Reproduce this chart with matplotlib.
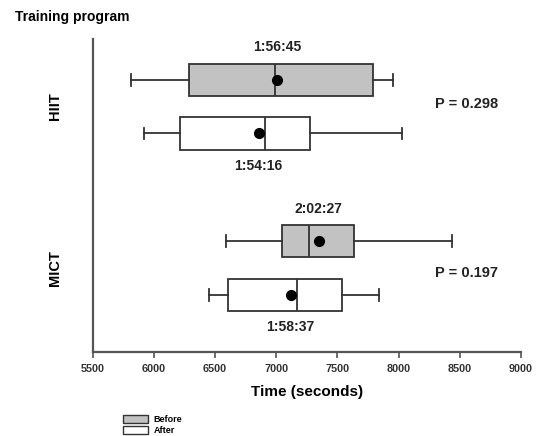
import numpy as np
import matplotlib
matplotlib.use("Agg")
import matplotlib.pyplot as plt
from matplotlib.patches import Patch

plt.rcParams['font.family'] = ['Liberation Sans', 'DejaVu Sans']
plt.rcParams['font.weight'] = 'bold'

# data (seconds)
groups = ['HIIT', 'MICT']
before_whislo = [5815, 6590]
before_q1 = [6285, 7050]
before_med = [6990, 7265]
before_q3 = [7790, 7635]
before_whishi = [7955, 8440]
before_mean = [7005, 7347]
before_label = ['1:56:45', '2:02:27']

after_whislo = [5920, 6450]
after_q1 = [6210, 6605]
after_med = [6905, 7170]
after_q3 = [7275, 7540]
after_whishi = [8030, 7840]
after_mean = [6856, 7117]
after_label = ['1:54:16', '1:58:37']

p_values = ['P = 0.298', 'P = 0.197']
xticks = [5500, 6000, 6500, 7000, 7500, 8000, 8500, 9000]

line_col = '#333333'
grey = '#c2c2c2'

fig = plt.figure(figsize=(5.37, 4.36), dpi=100)
ax = fig.add_axes([0.173, 0.193, 0.797, 0.718])

# group centres (HIIT top, MICT bottom)
centers = [3.5, 0.5]


def stats(lo, q1, med, q3, hi, mean):
    return dict(whislo=lo, q1=q1, med=med, q3=q3, whishi=hi, mean=mean, fliers=[])


for i, c in enumerate(centers):
    for kind in ['before', 'after']:
        if kind == 'before':
            s = stats(before_whislo[i], before_q1[i], before_med[i], before_q3[i],
                      before_whishi[i], before_mean[i])
            pos = c + 0.5
            fc = grey
        else:
            s = stats(after_whislo[i], after_q1[i], after_med[i], after_q3[i],
                      after_whishi[i], after_mean[i])
            pos = c - 0.5
            fc = 'white'
        ax.bxp([s], positions=[pos], widths=0.6, vert=False, patch_artist=True,
               showmeans=True, showfliers=False,
               boxprops=dict(facecolor=fc, edgecolor=line_col, linewidth=1.3),
               medianprops=dict(color=line_col, linewidth=1.3),
               whiskerprops=dict(color=line_col, linewidth=1.3),
               capprops=dict(color=line_col, linewidth=1.3),
               capwidths=0.22,
               meanprops=dict(marker='o', markerfacecolor='black',
                              markeredgecolor='black', markersize=7))

    ax.text(before_mean[i], c + 0.5 + 0.6, before_label[i], ha='center', va='center',
            fontsize=10, fontweight='bold', color='#222222')
    ax.text(after_mean[i], c - 0.5 - 0.6, after_label[i], ha='center', va='center',
            fontsize=10, fontweight='bold', color='#222222')
    ax.text(8300, c + 0.05 - 0.15 * i, p_values[i], ha='left', va='center',
            fontsize=10.5, fontweight='bold', color='#222222')

ax.set_xlim(5500, 9000)
ax.set_ylim(-1.06, 4.76)
ax.set_xticks(xticks)
ax.set_xticklabels([str(t) for t in xticks], fontsize=7.8, fontweight='bold', color='#333333')
ax.set_yticks(centers)
ax.set_yticklabels(groups, rotation=90, va='center', fontsize=10.5, fontweight='bold')
ax.tick_params(axis='y', length=0, pad=22)
ax.tick_params(axis='x', length=4, width=1.2, color='#555555', pad=5)
for side in ['top', 'right']:
    ax.spines[side].set_visible(False)
for side in ['left', 'bottom']:
    ax.spines[side].set_color('#555555')
    ax.spines[side].set_linewidth(1.6)

ax.set_xlabel('Time (seconds)', fontsize=11, fontweight='bold', labelpad=8)

fig.text(0.028, 0.962, 'Training program', fontsize=10, fontweight='bold', va='center')

handles = [Patch(facecolor=grey, edgecolor=line_col, linewidth=1),
           Patch(facecolor='white', edgecolor=line_col, linewidth=1)]
fig.legend(handles, ['Before', 'After'], loc='upper left',
           bbox_to_anchor=(0.229, 0.048), frameon=False,
           prop=dict(size=6.5, weight='bold'), handlelength=2.8, handleheight=0.9,
           labelspacing=0.25, handletextpad=0.6, borderaxespad=0, borderpad=0)

fig.savefig('out.png', dpi=100)
